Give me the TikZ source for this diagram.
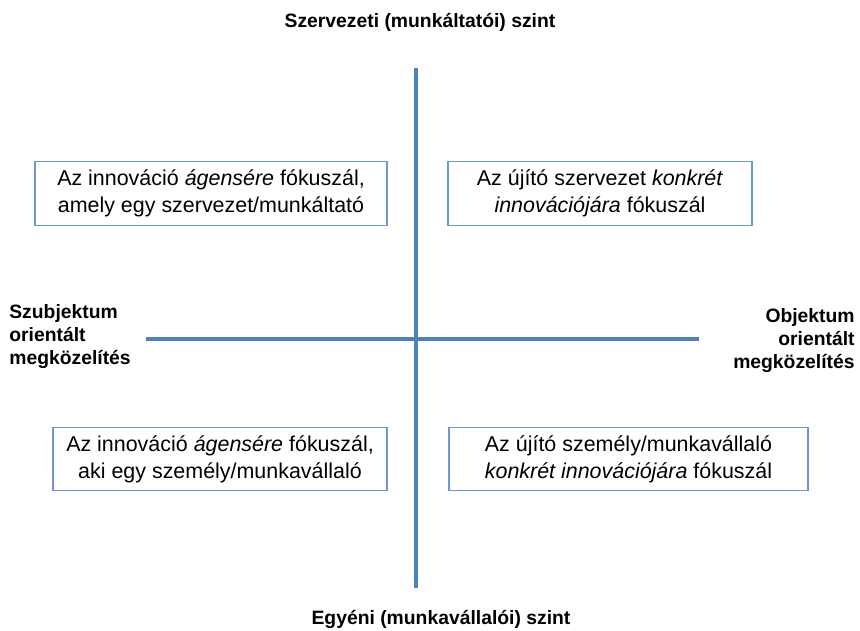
\documentclass[tikz,border=0pt]{standalone}
\usepackage{fontspec}
\setmainfont{Liberation Sans}
\definecolor{tengelykek}{HTML}{4F81BD}
\definecolor{dobozkek}{HTML}{6F97D2}
\begin{document}
\begin{tikzpicture}[
  tengely/.style={draw=tengelykek, line width=2.2pt},
  doboz/.style={draw=dobozkek, line width=0.6pt, align=center, inner sep=0pt,
    minimum height=1.27cm, font=\fontsize{12.2}{15.4}\selectfont},
  cimke/.style={inner sep=0pt, font=\fontsize{11}{13.1}\selectfont\bfseries}
]
  \useasboundingbox (-8.32,-5.84) rectangle (8.88,6.78);
  % tengelyek
  \coordinate (fent) at (0,5.42);
  \coordinate (lent) at (0,-4.98);
  \coordinate (bal) at (-5.40,0);
  \coordinate (jobb) at (5.66,0);
  \draw[tengely] (fent) -- (lent);
  \draw[tengely] (bal) -- (jobb);
  % dobozok
  \node[doboz, minimum width=7.04cm] (szervAgens) at (-4.10,2.91) {Az innováció \textit{ágensére} fókuszál,\\amely egy szervezet/munkáltató};
  \node[doboz, minimum width=6.08cm] (szervInnov) at (3.68,2.91) {Az újító szervezet \textit{konkrét}\\\textit{innovációjára} fókuszál};
  \node[doboz, minimum width=6.68cm] (egyenAgens) at (-3.92,-2.40) {Az innováció \textit{ágensére} fókuszál,\\aki egy személy/munkavállaló};
  \node[doboz, minimum width=7.18cm] (egyenInnov) at (4.25,-2.40) {Az újító személy/munkavállaló\\\textit{konkrét innovációjára} fókuszál};
  % feliratok
  \node[cimke] (szervSzint) at (0.08,6.34) {Szervezeti (munkáltatói) szint};
  \node[cimke, align=left, anchor=west] (szubj) at (-8.14,0.05) {Szubjektum\\orientált\\megközelítés};
  \node[cimke, align=right, anchor=east] (obj) at (8.78,-0.03) {Objektum\\orientált\\megközelítés};
  \node[cimke] (egyenSzint) at (0.50,-5.60) {Egyéni (munkavállalói) szint};
\end{tikzpicture}
\end{document}
